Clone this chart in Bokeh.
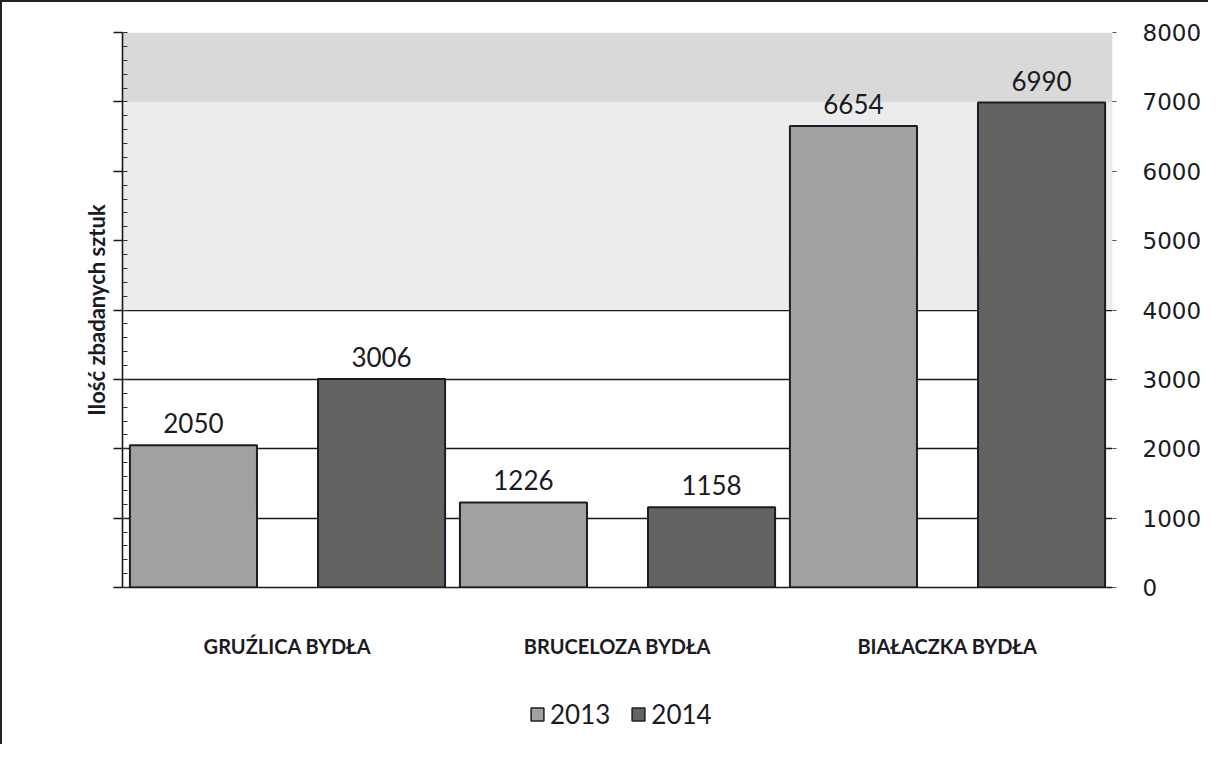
from bokeh.plotting import figure
from bokeh.layouts import column
from bokeh.models import (ColumnDataSource, FactorRange, LinearAxis, FixedTicker, Legend, LegendItem,
                          LabelSet, BoxAnnotation, Range1d, InlineStyleSheet)
from bokeh.core.properties import value
from bokeh.transform import dodge
from bokeh.embed import file_html
from bokeh.resources import INLINE

categories = ["GRUŹLICA BYDŁA", "BRUCELOZA BYDŁA", "BIAŁACZKA BYDŁA"]
years = ["2013", "2014"]
values_2013 = [2050, 1226, 6654]
values_2014 = [3006, 1158, 6990]
y_ticks = [0, 1000, 2000, 3000, 4000, 5000, 6000, 7000, 8000]
y_title = "Ilość zbadanych sztuk"

src = ColumnDataSource(dict(
    cat=categories,
    v13=values_2013,
    v14=values_2014,
    t13=[str(v) for v in values_2013],
    t14=[str(v) for v in values_2014],
))

TXT = "#1b1b24"
C13 = "#a0a1a0"
C14 = "#626462"
EDGE = "#1c1c28"

p = figure(frame_width=990, frame_height=555, x_range=FactorRange(*categories), y_range=Range1d(0, 8000),
           output_backend="svg", toolbar_location=None, y_axis_location="right",
           min_border_left=120, min_border_right=96, min_border_top=30, min_border_bottom=70)
p.outline_line_color = None
p.background_fill_color = "white"

p.add_layout(BoxAnnotation(bottom=7000, top=8000, fill_color="#d9d9d9", fill_alpha=1, line_color=None, level="underlay"))
p.add_layout(BoxAnnotation(bottom=4000, top=7000, fill_color="#ececec", fill_alpha=1, line_color=None, level="underlay"))

w = 0.385
off = 0.285
p.vbar(x=dodge("cat", -off, range=p.x_range), top="v13", width=w, source=src,
       fill_color=C13, line_color=EDGE, line_width=2)
p.vbar(x=dodge("cat", off, range=p.x_range), top="v14", width=w, source=src,
       fill_color=C14, line_color=EDGE, line_width=2)

for field, yfield, dx in (("t13", "v13", -off), ("t14", "v14", off)):
    p.add_layout(LabelSet(x=dodge("cat", dx, range=p.x_range), y=yfield, text=field, source=src,
                          y_offset=12, text_align="center", text_baseline="bottom",
                          text_font=value("Lato"), text_font_size="26px", text_color=TXT))

ticker = FixedTicker(ticks=y_ticks, minor_ticks=list(range(0, 8001, 200)))

# grid
p.xgrid.grid_line_color = None
p.ygrid.ticker = ticker
p.ygrid.grid_line_color = "#1a1a1a"
p.ygrid.grid_line_width = 1.6

# right axis (labels)
ra = p.yaxis[0]
ra.ticker = ticker
ra.axis_line_color = None
ra.major_tick_out = 4
ra.major_tick_in = 0
ra.major_tick_line_color = "#555"
ra.minor_tick_line_color = None
ra.major_label_standoff = 26
ra.major_label_text_font = "DejaVu Sans"
ra.major_label_text_font_size = "23px"
ra.major_label_text_color = TXT

# left axis (title, ticks only)
la = LinearAxis(ticker=ticker, axis_label=y_title,
                major_label_overrides={t: "" for t in y_ticks})
la.axis_line_color = "#1a1a1a"
la.axis_line_width = 1.6
la.major_tick_out = 9
la.major_tick_in = 0
la.major_tick_line_width = 1.6
la.major_tick_line_color = "#1a1a1a"
la.minor_tick_in = 5
la.minor_tick_out = 0
la.minor_tick_line_color = "#333"
la.major_label_standoff = 0
la.axis_label_standoff = 4
la.axis_label_text_font = "Lato"
la.axis_label_text_font_style = "bold"
la.axis_label_text_font_size = "22px"
la.axis_label_text_color = TXT
p.add_layout(la, "left")

# x axis
xa = p.xaxis[0]
xa.axis_line_color = "#1a1a1a"
xa.axis_line_width = 1.6
xa.major_tick_line_color = None
xa.minor_tick_line_color = None
xa.major_label_standoff = 40
xa.major_label_text_font = "Lato"
xa.major_label_text_font_style = "bold"
xa.major_label_text_font_size = "20px"
xa.major_label_text_color = TXT

# legend strip (keys only; the dummy point lies outside the strip's visible range)
lf = figure(width=1206, height=84, output_backend="svg", toolbar_location=None,
            min_border=0, x_range=Range1d(0, 1), y_range=Range1d(0, 1))
lf.axis.visible = False
lf.grid.visible = False
lf.outline_line_color = None
key_src = ColumnDataSource(dict(x=[-10], top=[-10]))
l13 = lf.vbar(x="x", top="top", width=0.1, source=key_src, fill_color=C13, line_color=EDGE, line_width=1.5)
l14 = lf.vbar(x="x", top="top", width=0.1, source=key_src, fill_color=C14, line_color=EDGE, line_width=1.5)
legend = Legend(items=[LegendItem(label=years[0], renderers=[l13]),
                       LegendItem(label=years[1], renderers=[l14])],
                orientation="horizontal", location=(407, 14),
                label_text_font="Lato", label_text_font_size="26px", label_text_color=TXT,
                glyph_width=16, glyph_height=16, spacing=20, label_standoff=5,
                border_line_color=None, background_fill_alpha=0, padding=4, margin=0)
lf.add_layout(legend, "center")

layout = column(p, lf, spacing=0)
layout.stylesheets = [InlineStyleSheet(css=":host { border-top: 2px solid #222; border-left: 2px solid #222; }")]

open("out.html", "w").write(file_html(layout, INLINE))
